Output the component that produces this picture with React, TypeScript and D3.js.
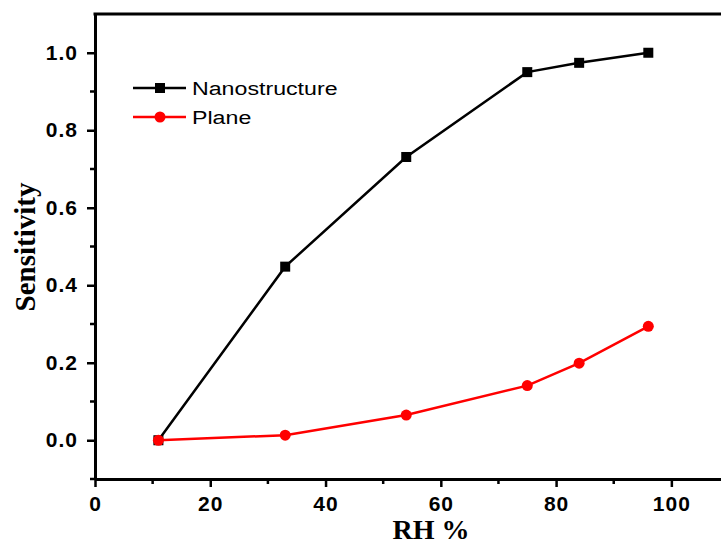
import * as d3 from 'd3';
import React, { useRef, useEffect } from 'react';

const rh = [11, 33, 54, 75, 84, 96]
const nanostructure = [0, 0.448, 0.731, 0.95, 0.974, 1.0]
const plane = [0, 0.013, 0.065, 0.141, 0.199, 0.294]
const xTicks = [0, 20, 40, 60, 80, 100]
const yTicks = [0.0, 0.2, 0.4, 0.6, 0.8, 1.0]

const App = () => {
    const ref = useRef<HTMLDivElement>(null)

    useEffect(() => {
        d3.select(ref.current).selectAll('svg').remove()

        const W = 721
        const H = 546
        const svg = d3.select(ref.current)
            .append('svg')
            .attr('width', W)
            .attr('height', H)
            .style('display', 'block')

        svg.append('rect').attr('width', W).attr('height', H).attr('fill', '#fff')

        const x = d3.scaleLinear().domain([0, 110]).range([95, 729])
        const y = d3.scaleLinear().domain([-0.1, 1.1]).range([479, 14])

        const tickFont = 'Arial, "Liberation Sans", sans-serif'

        // x axis
        const xAxis = d3.axisBottom(x)
            .tickValues(xTicks)
            .tickSize(8)
            .tickSizeOuter(0)
            .tickPadding(9)
            .tickFormat(d3.format('d'))
        const gx = svg.append('g')
            .attr('transform', `translate(0, ${y(-0.1)})`)
            .call(xAxis)
        gx.select('.domain').attr('stroke-width', 3)
        gx.selectAll('.tick line').attr('stroke-width', 2.5)
        gx.selectAll('text')
            .style('font-family', tickFont)
            .style('font-size', '21px')
            .style('font-weight', 'bold')
            .style('letter-spacing', '1px')
            .attr('fill', '#000')
        gx.selectAll('.minor')
            .data(d3.range(10, 111, 20))
            .enter().append('line')
            .attr('x1', d => x(d)).attr('x2', d => x(d))
            .attr('y1', 0).attr('y2', 5)
            .attr('stroke', '#000').attr('stroke-width', 2.5)

        // y axis
        const yAxis = d3.axisLeft(y)
            .tickValues(yTicks)
            .tickSize(8)
            .tickSizeOuter(0)
            .tickPadding(9)
            .tickFormat(d3.format('.1f'))
        const gy = svg.append('g')
            .attr('transform', `translate(${x(0)}, 0)`)
            .call(yAxis)
        gy.select('.domain').attr('stroke-width', 3)
        gy.selectAll('.tick line').attr('stroke-width', 2.5)
        gy.selectAll('text')
            .style('font-family', tickFont)
            .style('font-size', '21px')
            .style('font-weight', 'bold')
            .style('letter-spacing', '1px')
            .attr('fill', '#000')
        gy.selectAll('.minor')
            .data([-0.1, 0.1, 0.3, 0.5, 0.7, 0.9])
            .enter().append('line')
            .attr('x1', 0).attr('x2', -5)
            .attr('y1', d => y(d)).attr('y2', d => y(d))
            .attr('stroke', '#000').attr('stroke-width', 2.5)

        // top frame
        svg.append('line')
            .attr('x1', x(0) - 1.5).attr('x2', W)
            .attr('y1', y(1.1)).attr('y2', y(1.1))
            .attr('stroke', '#000').attr('stroke-width', 3)

        // axis titles
        svg.append('text')
            .attr('x', 431)
            .attr('y', 539)
            .attr('text-anchor', 'middle')
            .style('font-family', '"Liberation Serif", "Times New Roman", serif')
            .style('font-weight', 'bold')
            .style('font-size', '28px')
            .text('RH %')

        svg.append('text')
            .attr('transform', `translate(35, 247) rotate(-90)`)
            .attr('text-anchor', 'middle')
            .style('font-family', '"Liberation Serif", "Times New Roman", serif')
            .style('font-weight', 'bold')
            .style('font-size', '29px')
            .text('Sensitivity')

        const series = [
            { name: 'Nanostructure', values: nanostructure, color: '#000', shape: 'square' },
            { name: 'Plane', values: plane, color: '#ff0000', shape: 'circle' },
        ]

        const line = d3.line<number>()
            .x((d, i) => x(rh[i]))
            .y(d => y(d))

        series.forEach(s => {
            svg.append('path')
                .datum(s.values)
                .attr('fill', 'none')
                .attr('stroke', s.color)
                .attr('stroke-width', 2.5)
                .attr('d', line)

            const pts = svg.append('g')
            if (s.shape === 'square') {
                pts.selectAll('rect')
                    .data(s.values)
                    .enter().append('rect')
                    .attr('x', (d, i) => x(rh[i]) - 5)
                    .attr('y', d => y(d) - 5)
                    .attr('width', 10).attr('height', 10)
                    .attr('fill', s.color)
            } else {
                pts.selectAll('circle')
                    .data(s.values)
                    .enter().append('circle')
                    .attr('cx', (d, i) => x(rh[i]))
                    .attr('cy', d => y(d))
                    .attr('r', 5.5)
                    .attr('fill', s.color)
            }
        })

        // legend
        const legend = svg.append('g').attr('transform', 'translate(133, 88)')
        series.forEach((s, i) => {
            const g = legend.append('g').attr('transform', `translate(0, ${i * 29})`)
            g.append('line')
                .attr('x1', 0).attr('x2', 53)
                .attr('y1', 0).attr('y2', 0)
                .attr('stroke', s.color).attr('stroke-width', 2.5)
            if (s.shape === 'square') {
                g.append('rect').attr('x', 22).attr('y', -5).attr('width', 10).attr('height', 10).attr('fill', s.color)
            } else {
                g.append('circle').attr('cx', 27).attr('cy', 0).attr('r', 5.5).attr('fill', s.color)
            }
            g.append('text')
                .attr('transform', 'translate(59, 7) scale(1.22, 1)')
                .style('font-family', tickFont)
                .style('font-size', '19px')
                .attr('fill', '#000')
                .text(s.name)
        })
    }, [])

    return <div ref={ref} style={{ position: 'absolute', left: 0, top: 0 }} />
}

export default App
